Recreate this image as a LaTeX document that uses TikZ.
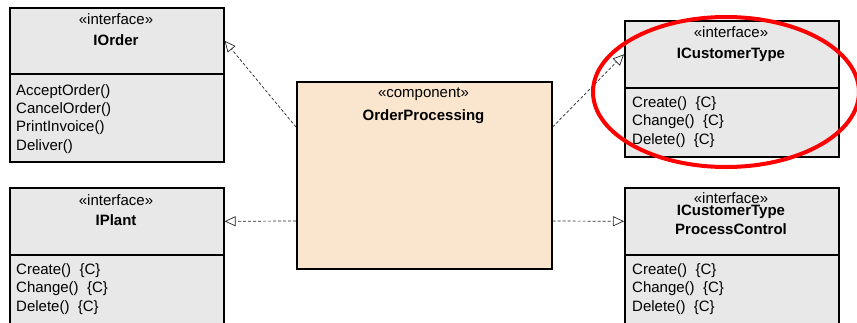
\documentclass[tikz,border=0pt]{standalone}
\usepackage{fontspec}
\setmainfont{Liberation Sans}
\usetikzlibrary{arrows.meta}
\definecolor{boxgray}{HTML}{E8E8E8}
\definecolor{peach}{HTML}{FAE6CF}
\newcommand{\crud}{Create()~~\{C\}\\Change()~~\{C\}\\Delete()~~\{C\}}

\begin{document}
\begin{tikzpicture}[
		x=1pt, y=-1pt,
		every node/.style={font=\fontsize{15}{18.3}\selectfont, inner sep=0pt},
		head/.style={draw=black, fill=boxgray, line width=1.6pt, minimum width=214pt, minimum height=66pt, anchor=north west},
		body/.style={draw=black, fill=boxgray, line width=1.6pt, minimum width=214pt, anchor=north west},
		comp/.style={draw=black, fill=peach, line width=1.6pt, minimum width=255pt, minimum height=187pt, anchor=north west},
		stereo/.style={anchor=base},
		title/.style={anchor=base, font=\fontsize{15}{19}\selectfont\bfseries},
		ops/.style={align=left, anchor=base west},
		real/.style={draw=black!85, densely dashed, line width=0.7pt, -{Triangle[open, length=11pt, width=10pt]}},
	]
		\clip (0,0) rectangle (857,322);

		\node[head] (iorderh) at (9,7) {};
		\node[body, minimum height=88pt] (iorderb) at (9,73) {};
		\node[stereo] (iorders) at (116,24) {«interface»};
		\node[title] (iordert) at (116,45) {IOrder};
		\node[ops] (iordero) at (16,150) {AcceptOrder()\\CancelOrder()\\PrintInvoice()\\Deliver()};

		\node[head, minimum height=67pt] (iplanth) at (9,187) {};
		\node[body, minimum height=90pt] (iplantb) at (9,254) {};
		\node[stereo] (iplants) at (116,205) {«interface»};
		\node[title] (iplantt) at (116,225) {IPlant};
		\node[ops] (iplanto) at (16,311) {\crud};

		\node[comp] (op) at (296,81) {};
		\node[stereo] (ops) at (423.5,97) {«component»};
		\node[title] (opt) at (423.5,120) {OrderProcessing};

		\node[head, minimum height=67pt] (icth) at (624,20) {};
		\node[body, minimum height=69pt] (ictb) at (624,87) {};
		\node[stereo] (icts) at (731,37) {«interface»};
		\node[title] (ictt) at (731,58) {ICustomerType};
		\node[ops] (icto) at (632,144) {\crud};

		\node[head, minimum height=67pt] (ictpch) at (624,187) {};
		\node[body, minimum height=90pt] (ictpcb) at (624,254) {};
		\node[stereo] (ictpcs) at (731,203) {«interface»};
		\node[title, align=center] (ictpct) at (731,234) {ICustomerType\\ProcessControl};
		\node[ops] (ictpco) at (632,311) {\crud};

		\draw[real] (op.north west) ++(0,46) -- (iorderh.east);
		\draw[real] (op.north east) ++(0,46) -- (icth.west);
		\draw[real] (op.north west) ++(0,140) -- (iplanth.east);
		\draw[real] (op.north east) ++(0,140) -- (ictpch.west);

		% highlight
		\draw[red, line width=4pt] (726,92) ellipse [x radius=133, y radius=75];
	\end{tikzpicture}
\end{document}
